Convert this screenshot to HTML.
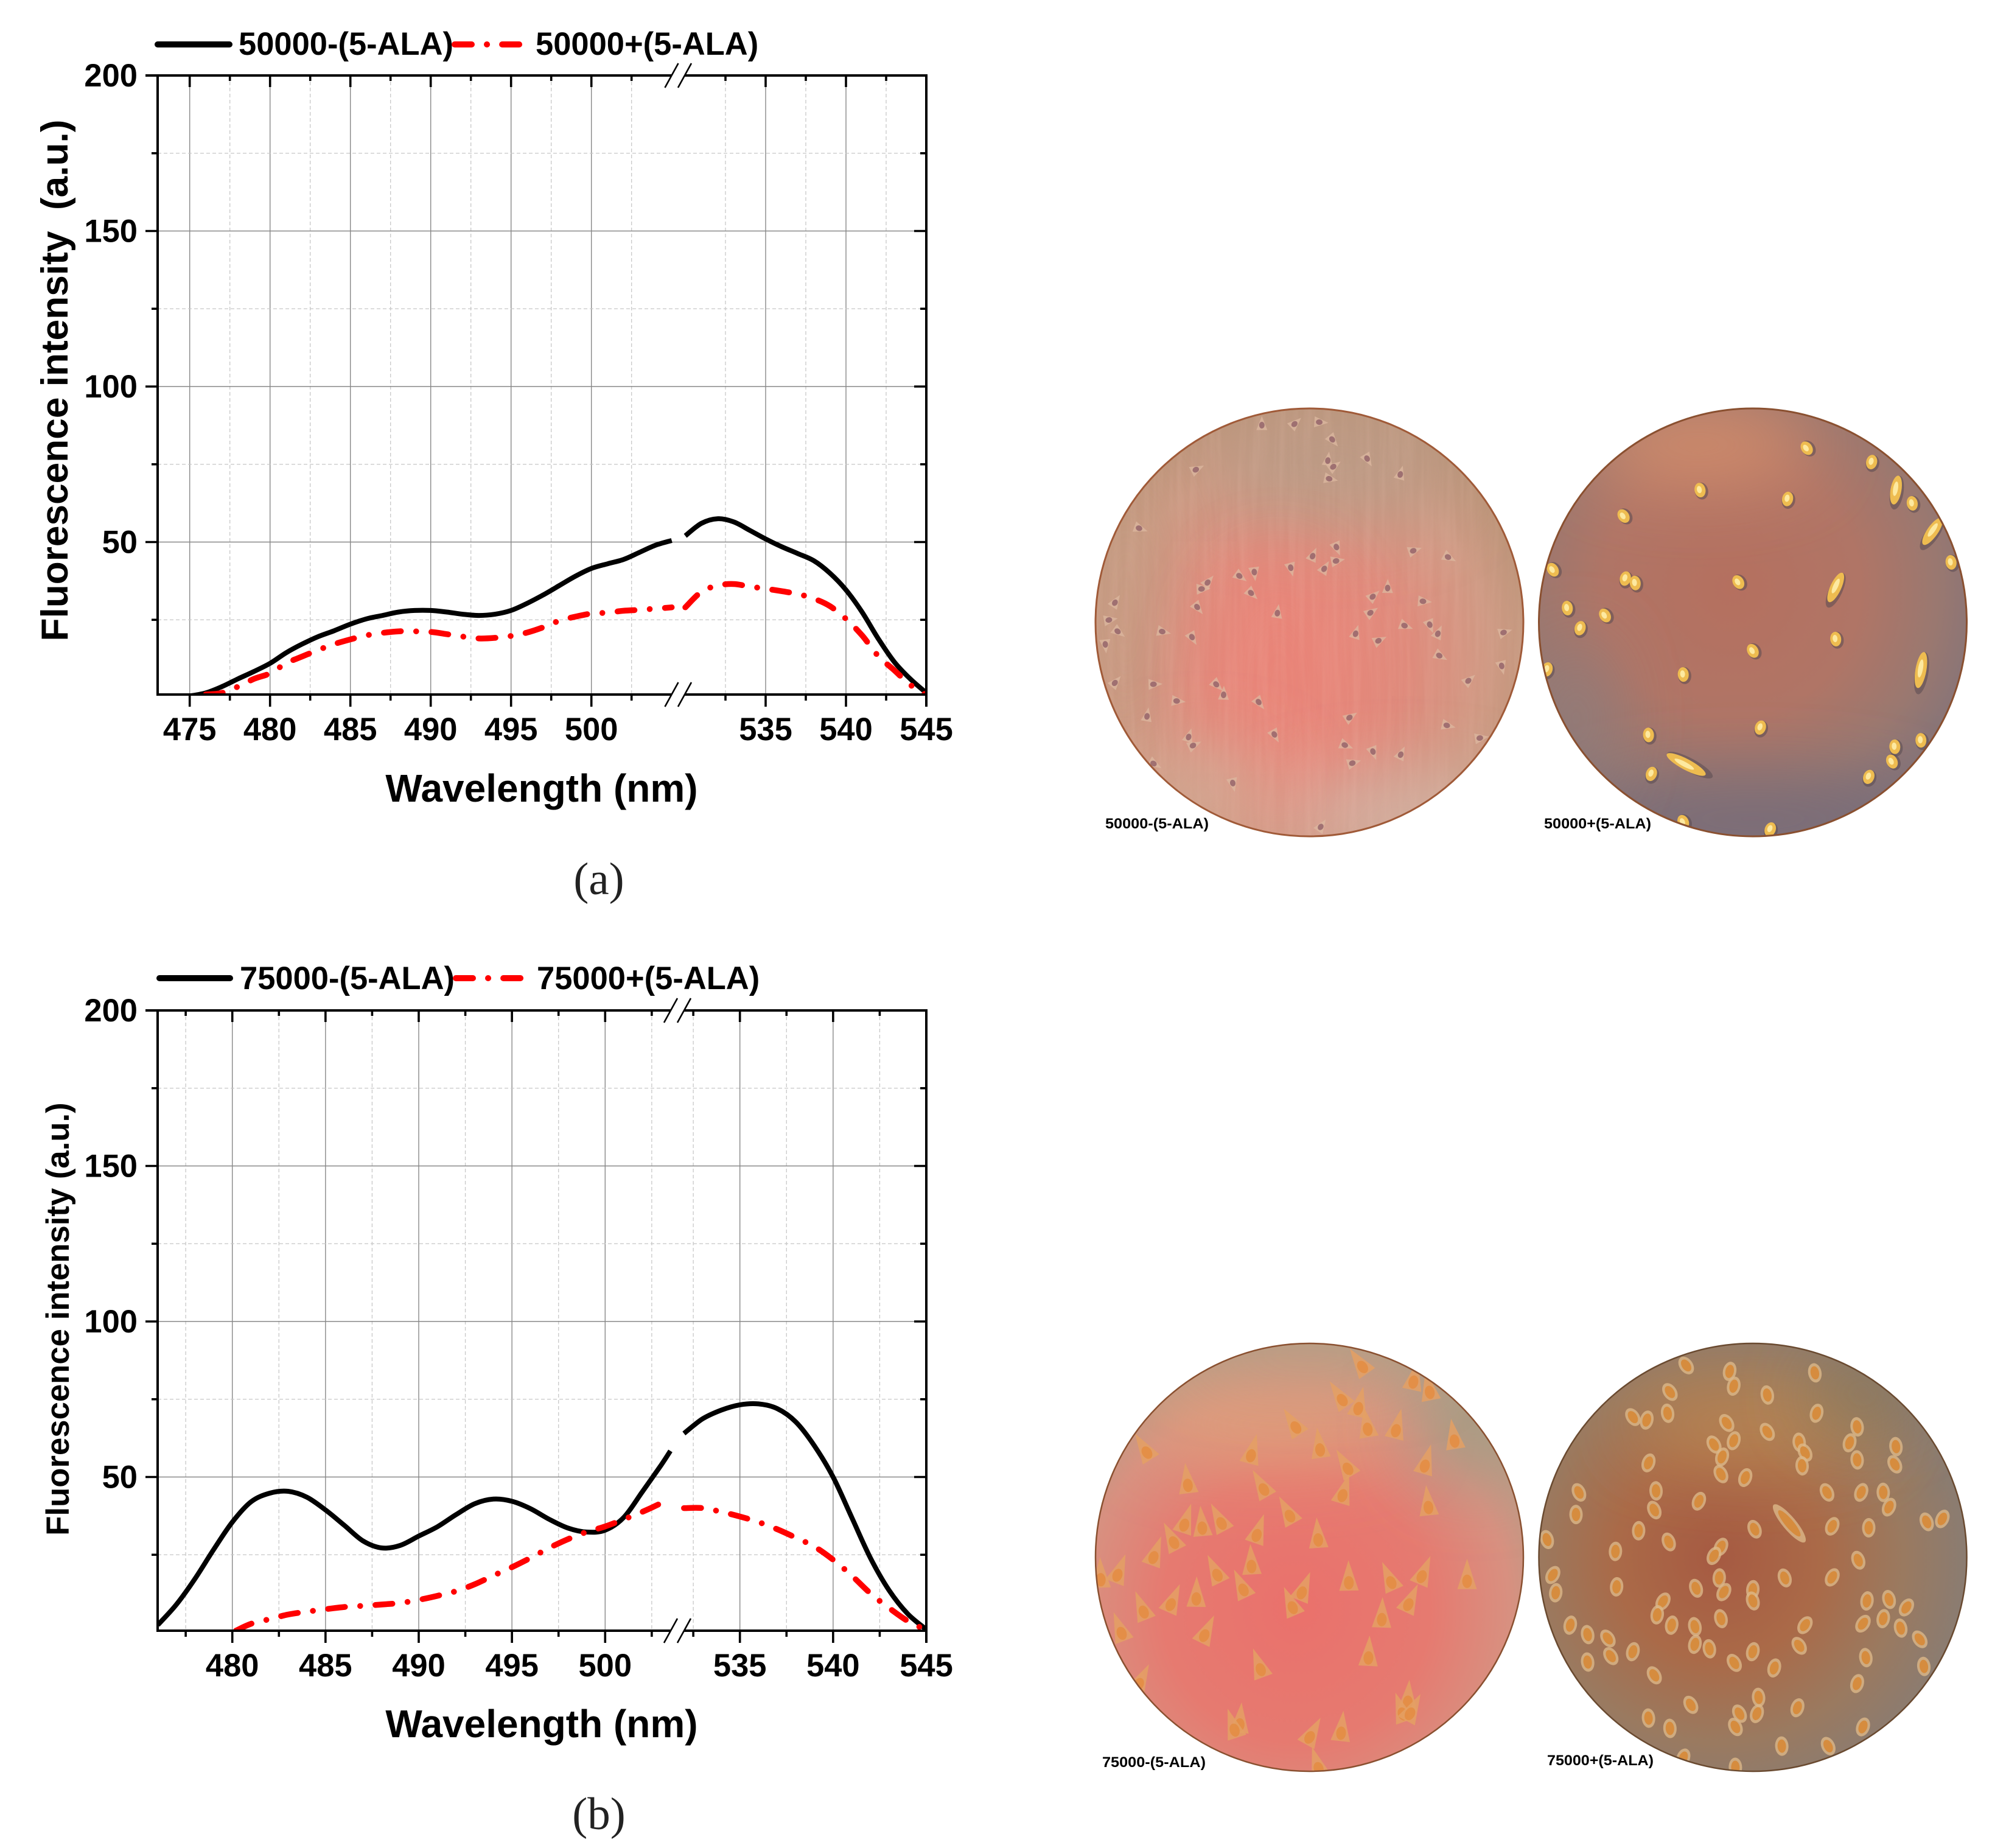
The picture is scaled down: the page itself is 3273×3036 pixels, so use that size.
<!DOCTYPE html>
<html lang="en">
<head>
<meta charset="utf-8">
<title>Fluorescence spectra and micrographs</title>
<style>
html,body{margin:0;padding:0;background:#fff;}
svg{display:block;font-family:"Liberation Sans",Arial,sans-serif;}
.tk{font-weight:700;font-size:52.5px;fill:#000;}
.lg{font-weight:700;font-size:52.5px;fill:#000;}
.ax{font-weight:700;font-size:64px;fill:#000;}
.cap{font-family:"Liberation Serif",serif;font-size:75px;fill:#222;}
.mic{font-weight:700;font-size:24px;fill:#000;}
</style>
</head>
<body>
<svg id="fig" xmlns="http://www.w3.org/2000/svg" width="3273" height="3036" viewBox="0 0 3273 3036">
<defs>
  <filter id="soft" filterUnits="userSpaceOnUse" x="1700" y="500" width="1573" height="2536"><feGaussianBlur stdDeviation="60"/></filter>
  <filter id="streak" filterUnits="userSpaceOnUse" x="1799" y="670" width="705" height="706">
    <feTurbulence type="fractalNoise" baseFrequency="0.09 0.005" numOctaves="3" seed="4"/>
    <feColorMatrix type="matrix" values="0 0 0 0 0.95  0 0 0 0 0.62  0 0 0 0 0.52  0 0 0 1.6 -0.55"/>
  </filter>
  <radialGradient id="gA1" cx="47%" cy="58%" r="58%"><stop offset="0" stop-color="#e6867a"/><stop offset=".45" stop-color="#df8b7c"/><stop offset=".78" stop-color="#cf9a84"/><stop offset="1" stop-color="#bb9478"/></radialGradient>
  <radialGradient id="gA2" cx="45%" cy="42%" r="60%"><stop offset="0" stop-color="#b5705f"/><stop offset=".5" stop-color="#b07566"/><stop offset=".8" stop-color="#9a7870"/><stop offset="1" stop-color="#867478"/></radialGradient>
  <radialGradient id="gB1" cx="47%" cy="62%" r="62%"><stop offset="0" stop-color="#ea716c"/><stop offset=".5" stop-color="#e67a70"/><stop offset=".8" stop-color="#d89080"/><stop offset="1" stop-color="#b89c86"/></radialGradient>
  <radialGradient id="gB2" cx="42%" cy="50%" r="60%"><stop offset="0" stop-color="#a65a42"/><stop offset=".4" stop-color="#aa6a48"/><stop offset=".72" stop-color="#9a7a60"/><stop offset="1" stop-color="#887c74"/></radialGradient>
  <clipPath id="cA1"><circle cx="2151.5" cy="1022.5" r="352.5"/></clipPath>
  <clipPath id="cA2"><circle cx="2880" cy="1022.5" r="352.5"/></clipPath>
  <clipPath id="cB1"><circle cx="2151.5" cy="2558.5" r="352.5"/></clipPath>
  <clipPath id="cB2"><circle cx="2880" cy="2558.5" r="352.5"/></clipPath>
  <clipPath id="plotA"><rect x="259" y="124" width="1263" height="1017"/></clipPath>
  <clipPath id="plotB"><rect x="259" y="1660" width="1263" height="1019"/></clipPath>
</defs>

<g id="chartA"></g>
<g id="chartB"></g>

<!-- chart A static text -->
<g>
  <line x1="259" y1="73" x2="377" y2="73" stroke="#000" stroke-width="10" stroke-linecap="round"/>
  <text class="lg" x="392" y="90">50000-(5-ALA)</text>
  <line x1="747" y1="73" x2="857" y2="73" stroke="#f00" stroke-width="10" stroke-linecap="round" stroke-dasharray="28 25 0.1 25"/>
  <text class="lg" x="880" y="90">50000+(5-ALA)</text>
</g>
<text class="ax" x="890" y="1317" text-anchor="middle">Wavelength (nm)</text>
<text class="ax" transform="translate(111,625) rotate(-90)" text-anchor="middle" style="font-size:62.2px;white-space:pre" xml:space="preserve">Fluorescence intensity  (a.u.)</text>
<text class="cap" x="984" y="1469" text-anchor="middle">(a)</text>

<!-- chart B static text -->
<g>
  <line x1="262" y1="1607" x2="378" y2="1607" stroke="#000" stroke-width="10" stroke-linecap="round"/>
  <text class="lg" x="394" y="1625">75000-(5-ALA)</text>
  <line x1="749" y1="1607" x2="859" y2="1607" stroke="#f00" stroke-width="10" stroke-linecap="round" stroke-dasharray="28 25 0.1 25"/>
  <text class="lg" x="882" y="1625">75000+(5-ALA)</text>
</g>
<text class="ax" x="890" y="2854" text-anchor="middle">Wavelength (nm)</text>
<text class="ax" transform="translate(113,2167) rotate(-90)" text-anchor="middle" style="font-size:52.7px">Fluorescence intensity (a.u.)</text>
<text class="cap" x="984" y="3005" text-anchor="middle">(b)</text>

<!-- micrographs -->
<g clip-path="url(#cA1)">
  <circle cx="2151.5" cy="1022.5" r="352.5" fill="url(#gA1)"/>
  <ellipse cx="2190" cy="760" rx="210" ry="100" fill="#bb9a84" filter="url(#soft)"/>
  <ellipse cx="1850" cy="1000" rx="60" ry="240" fill="#bf9c82" filter="url(#soft)" opacity=".8"/>
  <ellipse cx="2100" cy="1130" rx="110" ry="210" fill="#ea8478" filter="url(#soft)" opacity=".8"/>
  <ellipse cx="2300" cy="1340" rx="190" ry="50" fill="#d4b8ac" filter="url(#soft)"/>
  <ellipse cx="1980" cy="1300" rx="110" ry="60" fill="#d2ae98" filter="url(#soft)"/>
  <rect x="1799" y="670" width="705" height="706" filter="url(#streak)" opacity=".14"/>
  <g id="cellsA1"></g>
</g>
<circle cx="2151.5" cy="1022.5" r="351.5" fill="none" stroke="#a05a38" stroke-width="3"/>
<g clip-path="url(#cA2)">
  <circle cx="2880" cy="1022.5" r="352.5" fill="url(#gA2)"/>
  <ellipse cx="2790" cy="730" rx="190" ry="60" fill="#d48e6c" filter="url(#soft)"/>
  <ellipse cx="2880" cy="1345" rx="300" ry="60" fill="#766a78" filter="url(#soft)"/>
  <ellipse cx="2590" cy="1180" rx="50" ry="130" fill="#8e7c7c" filter="url(#soft)"/>
  <g id="cellsA2"></g>
</g>
<circle cx="2880" cy="1022.5" r="351.5" fill="none" stroke="#8a5030" stroke-width="3"/>
<g clip-path="url(#cB1)">
  <circle cx="2151.5" cy="2558.5" r="352.5" fill="url(#gB1)"/>
  <ellipse cx="2090" cy="2340" rx="210" ry="50" fill="#e0a47a" filter="url(#soft)"/>
  <ellipse cx="2420" cy="2340" rx="90" ry="90" fill="#a69c84" filter="url(#soft)"/>
  <ellipse cx="2150" cy="2225" rx="200" ry="20" fill="#b4a084" filter="url(#soft)"/>
  <g id="cellsB1"></g>
</g>
<circle cx="2151.5" cy="2558.5" r="351.5" fill="none" stroke="#8a5030" stroke-width="2.5"/>
<g clip-path="url(#cB2)">
  <circle cx="2880" cy="2558.5" r="352.5" fill="url(#gB2)"/>
  <ellipse cx="2880" cy="2340" rx="210" ry="50" fill="#bc8a52" filter="url(#soft)"/>
  <ellipse cx="3060" cy="2290" rx="90" ry="45" fill="#84765a" filter="url(#soft)"/>
  <g id="cellsB2"></g>
</g>
<circle cx="2880" cy="2558.5" r="351.5" fill="none" stroke="#6a4a30" stroke-width="2.5"/>

<text class="mic" x="1816" y="1361" textLength="170" lengthAdjust="spacingAndGlyphs">50000-(5-ALA)</text>
<text class="mic" x="2537" y="1361" textLength="176" lengthAdjust="spacingAndGlyphs">50000+(5-ALA)</text>
<text class="mic" x="1811" y="2903" textLength="170" lengthAdjust="spacingAndGlyphs">75000-(5-ALA)</text>
<text class="mic" x="2542" y="2900" textLength="175" lengthAdjust="spacingAndGlyphs">75000+(5-ALA)</text>
</svg>

<script>
// ---- chart data (top level) ----
const yMajorTicks = [50, 100, 150, 200];
const yMinorTicks = [25, 75, 125, 175];

const aXMajorLeft = [475, 480, 485, 490, 495, 500];
const aXMinorLeft = [477.5, 482.5, 487.5, 492.5, 497.5, 502.5];
const aXMajorRight = [535, 540, 545];
const aXMinorRight = [532.5, 537.5, 542.5];

const bXMajorLeft = [480, 485, 490, 495, 500];
const bXMinorLeft = [477.5, 482.5, 487.5, 492.5, 497.5, 502.5];
const bXMajorRight = [535, 540, 545];
const bXMinorRight = [532.5, 537.5, 542.5];

const aBlackWlLeft = [475,476,477,478,479,480,481,482,483,484,485,486,487,488,489,490,491,492,493,494,495,496,497,498,499,500,501,502,503,504,505];
const aBlackLeft = [0.5,1.5,3.5,6,8.4,11,14.4,17.2,19.6,21.5,23.6,25.3,26.4,27.5,28,28,27.5,26.8,26.4,26.8,28,30.3,33,36,39,41.5,43,44.4,46.7,49,50.5];
const aBlackWlRight = [530,531,532,533,534,535,536,537,538,539,540,541,542,543,544,545];
const aBlackRight = [52,56,57.5,56.5,53.8,51,48.5,46.3,44,40,34.6,27.5,19,11.5,6,1.5];

const aRedWlLeft = [476,477,478,479,480,481,482,483,484,485,486,487,488,489,490,491,492,493,494,495,496,497,498,499,500,501,502,503,504,505];
const aRedLeft = [1,1.5,3.5,6,7.8,11,13.2,15.3,17.2,18.7,20,20.8,21.3,21.3,21.1,20.4,19.6,19,19.2,19.8,20.9,22.6,24.7,26,27,27.3,27.9,28.2,28.6,29];
const aRedWlRight = [530,531,532,533,534,535,536,537,538,539,540,541,542,543,544,545];
const aRedRight = [29,34,36,36.5,35.7,35,34.2,33.3,31.8,29.4,25.3,20,13.4,8.8,4.1,0.8];

const bBlackWlLeft = [476,477,478,479,480,481,482,483,484,485,486,487,488,489,490,491,492,493,494,495,496,497,498,499,500,501,502,503,503.5];
const bBlackLeft = [2.4,9,17.3,26.7,35.5,42,44.8,45.4,43.5,39.4,34.5,29.5,27.2,28,31,34,37.9,41.4,42.9,42.2,39.8,36.4,33.6,32.3,32.9,37,45.3,53.8,58.4];
const bBlackWlRight = [532,533,534,535,536,537,538,539,540,541,542,543,544,545];
const bBlackRight = [64,68.7,71.5,73.2,73.5,72,67.7,60,50,37,24,13.6,6,1];

const bRedWlLeft = [480.2,481,482,483,484,485,486,487,488,489,490,491,492,493,494,495,496,497,498,499,500,501,502,503,503.5];
const bRedLeft = [0.6,2.8,4.3,5.8,6.7,7.5,8.2,8.6,9,9.5,10.5,11.8,13.3,15.5,18.3,21,24,27.2,30,32.3,34.1,36.4,38.8,41.6,43.5];
const bRedWlRight = [532,533,534,535,536,537,538,539,540,541,542,543,544,545];
const bRedRight = [40,40,38.8,37.3,35.5,33.2,30.5,27.6,23.4,18.3,12.6,7.9,3.7,0.8];

// ---- micrograph cell positions (as seen on the micrograph); optional [x, y, elongation, tilt] ----
const cellsA1 = [[308,98],[365,95],[408,90],[430,150],[422,218],[432,240],[425,282],[490,215],[547,265],[195,250],[97,450],[437,515],[396,542],[570,525],[630,548],[358,585],[416,585],[437,560],[270,612],[295,600],[215,632],[205,655],[290,670],[525,650],[500,680],[587,697],[197,718],[335,735],[496,735],[137,800],[188,820],[470,805],[510,830],[555,780],[598,778],[612,805],[726,802],[615,882],[722,918],[55,700],[45,760],[60,800],[38,845],[55,972],[122,978],[230,980],[242,1012],[665,965],[162,1035],[303,1040],[110,1085],[460,1090],[628,1118],[330,1150],[182,1155],[190,1185],[452,1185],[500,1208],[548,1215],[465,1245],[122,1248],[258,1315],[410,1460],[685,1160]];
const cellsA2 = [[1248,178],[1215,350],[1064,320],[932,408],[1360,225],[1430,365],[1402,320,2,10],[1465,460,2.2,35],[1497,565],[810,590],[935,620],[952,635],[1130,632],[1298,650,2.2,25],[835,720],[900,745],[857,788],[1298,825],[1155,865],[800,928],[1035,945],[1445,930,2.5,10],[1168,1125],[975,1150],[1040,1250,3,-62],[980,1282],[1400,1190],[1395,1240],[1355,1292],[1445,1168],[1035,1445],[1185,1470]];
const cellsB1 = [[480,110],[570,160],[597,195],[445,222],[475,250],[490,320],[365,315],[540,325],[640,360],[108,400],[290,410],[408,390],[455,455],[590,445],[180,510],[310,525],[448,545],[595,585],[355,615],[175,645],[205,655],[237,640],[300,680],[405,695],[155,705],[122,755],[290,785],[230,815],[60,815],[30,830],[275,865],[378,875],[458,840],[530,840],[585,820],[662,835],[360,925],[152,915],[195,895],[103,940],[562,915],[515,965],[65,1012],[210,1020],[492,1095],[305,1135],[97,1185],[560,1245],[550,1285],[565,1285],[270,1322],[260,1340],[392,1365],[445,1350],[405,1470]];
const cellsB2 = [[1040,110],[1115,130],[1262,135],[1012,200],[1122,180],[1180,210],[948,285],[972,295],[1008,272],[1110,305],[1265,272],[1335,318],[1180,335],[1322,372],[1402,385],[1088,378],[1122,365],[1235,370],[1245,405],[1102,420],[1335,430],[1400,445],[975,440],[1240,450],[1100,478],[1142,490],[988,535],[1283,540],[1342,540],[1380,540],[855,540],[1062,570],[850,615],[985,600],[1390,590],[1218,645,2.5,-40],[1158,665],[1292,655],[1355,660],[1455,640],[1482,630],[958,670],[1010,708],[1100,725],[918,740],[1337,770],[1088,755],[1097,830],[1210,830],[1292,828],[920,860],[1057,865],[1105,878],[1155,870],[1155,908],[810,820],[815,880],[800,700],[1000,910],[1352,908],[1390,903],[1420,930],[990,955],[1100,968],[1245,990],[1015,990],[1055,995],[1345,985],[1380,968],[1410,1000],[1443,1038],[840,990],[870,1022],[905,1035],[1055,1055],[1080,1070],[1235,1060],[1155,1080],[1350,1100],[910,1095],[948,1080],[870,1115],[1123,1118],[1192,1135],[1450,1130],[985,1160],[1335,1188],[1165,1235],[1048,1260],[1232,1270],[975,1305],[1132,1290],[1162,1290],[1012,1340],[1125,1335],[1345,1335],[1205,1400],[1285,1400],[1035,1440],[1125,1472]];

const NS = 'http://www.w3.org/2000/svg';
function mk(parent, tag, attrs) {
  const n = document.createElementNS(NS, tag);
  for (const k in attrs) n.setAttribute(k, attrs[k]);
  parent.appendChild(n);
  return n;
}

function smoothPath(pts) {
  let d = 'M' + pts[0][0].toFixed(1) + ' ' + pts[0][1].toFixed(1);
  for (let i = 0; i < pts.length - 1; i++) {
    const p0 = pts[Math.max(0, i - 1)], p1 = pts[i], p2 = pts[i + 1], p3 = pts[Math.min(pts.length - 1, i + 2)];
    const c1x = p1[0] + (p2[0] - p0[0]) / 6, c1y = p1[1] + (p2[1] - p0[1]) / 6;
    const c2x = p2[0] - (p3[0] - p1[0]) / 6, c2y = p2[1] - (p3[1] - p1[1]) / 6;
    d += 'C' + c1x.toFixed(1) + ' ' + c1y.toFixed(1) + ' ' + c2x.toFixed(1) + ' ' + c2y.toFixed(1) + ' ' + p2[0].toFixed(1) + ' ' + p2[1].toFixed(1);
  }
  return d;
}

function drawChart(cfg) {
  const g = document.getElementById(cfg.id);
  const L = 259, R = 1522, T = cfg.top, B = cfg.bottom;
  const xL = w => cfg.x0L + (w - cfg.w0L) * cfg.pxPerNm;
  const xR = w => R + (w - 545) * cfg.pxPerNm;
  const y = v => T + (200 - v) * 5.11;

  // grid
  cfg.minorL.map(xL).concat(cfg.minorR.map(xR)).forEach(px => {
    const el = mk(g, 'line', {x1: px, x2: px, y1: T, y2: B, stroke: '#c8c8c8', 'stroke-width': 1.3, 'stroke-dasharray': '6 4'});
    
    
  });
  cfg.majorL.map(xL).concat(cfg.majorR.map(xR)).forEach(px => {
    const el = mk(g, 'line', {x1: px, x2: px, y1: T, y2: B, stroke: '#888', 'stroke-width': 1.4});
    
    
  });
  yMinorTicks.forEach(v => {
    const el = mk(g, 'line', {x1: L, x2: R, y1: y(v), y2: y(v), stroke: '#c8c8c8', 'stroke-width': 1.3, 'stroke-dasharray': '6 4'});
    
    
  });
  yMajorTicks.filter(v => v < 200).forEach(v => {
    const el = mk(g, 'line', {x1: L, x2: R, y1: y(v), y2: y(v), stroke: '#888', 'stroke-width': 1.4});
    
    
  });

  // series
  const series = [
    {wl: cfg.blackWlL, v: cfg.blackL, sc: xL, c: '#000', name: 'series-minus-ala-left'},
    {wl: cfg.blackWlR, v: cfg.blackR, sc: xR, c: '#000', name: 'series-minus-ala-right'},
    {wl: cfg.redWlL, v: cfg.redL, sc: xL, c: '#f00', name: 'series-plus-ala-left', dash: true},
    {wl: cfg.redWlR, v: cfg.redR, sc: xR, c: '#f00', name: 'series-plus-ala-right', dash: true}
  ];
  const clip = mk(g, 'g', {'clip-path': 'url(#' + cfg.clip + ')'});
  
  
  series.forEach(s => {
    const pts = s.wl.map((w, i) => [s.sc(w), y(s.v[i])]);
    const el = mk(clip, 'path', {d: smoothPath(pts), fill: 'none', stroke: s.c,
      'stroke-width': s.dash ? 9.5 : 8, 'stroke-linecap': s.dash ? 'round' : 'butt', 'stroke-linejoin': 'round',
      'stroke-dasharray': s.dash ? '28 25 0.1 25' : 'none'});
    
    
  });

  // axes frame
  [[239, T, R + 2, T], [L, B, R + 2, B], [L, T - 2, L, B + 2], [R, T - 2, R, B + 20]].forEach((a, i) => {
    const el = mk(g, 'line', {x1: a[0], y1: a[1], x2: a[2], y2: a[3], stroke: '#000', 'stroke-width': 4});
    
    
  });

  // x ticks
  const allMajor = cfg.majorL.map(w => [w, xL(w)]).concat(cfg.majorR.map(w => [w, xR(w)]));
  const allMinor = cfg.minorL.map(xL).concat(cfg.minorR.map(xR));
  allMajor.forEach(m => {
    const t1 = mk(g, 'line', {x1: m[1], x2: m[1], y1: T, y2: T + 19, stroke: '#000', 'stroke-width': 3.6});
    
    
    const t2 = mk(g, 'line', {x1: m[1], x2: m[1], y1: B, y2: B + 20, stroke: '#000', 'stroke-width': 3.6});
    
    
    const lab = mk(g, 'text', {x: m[1], y: B + 75, 'text-anchor': 'middle', class: 'tk'});
    
    
    lab.textContent = m[0];
  });
  allMinor.forEach(px => {
    const t1 = mk(g, 'line', {x1: px, x2: px, y1: T, y2: T + 9, stroke: '#000', 'stroke-width': 3.6});
    
    
    const t2 = mk(g, 'line', {x1: px, x2: px, y1: B, y2: B + 10, stroke: '#000', 'stroke-width': 3.6});
    
    
  });

  // y ticks
  yMajorTicks.forEach(v => {
    const t1 = mk(g, 'line', {x1: 239, x2: L, y1: y(v), y2: y(v), stroke: '#000', 'stroke-width': 3.6});
    
    
    if (v < 200) {
      const t2 = mk(g, 'line', {x1: R - 20, x2: R, y1: y(v), y2: y(v), stroke: '#000', 'stroke-width': 3.6});
      
      
    }
    const lab = mk(g, 'text', {x: 226, y: y(v) + 18, 'text-anchor': 'end', class: 'tk'});
    
    
    lab.textContent = v;
  });
  yMinorTicks.forEach(v => {
    const t1 = mk(g, 'line', {x1: 249, x2: L, y1: y(v), y2: y(v), stroke: '#000', 'stroke-width': 3.6});
    
    
    const t2 = mk(g, 'line', {x1: R - 10, x2: R, y1: y(v), y2: y(v), stroke: '#000', 'stroke-width': 3.6});
    
    
  });

  // axis break marks
  [T, B].forEach(ay => {
    const gap = mk(g, 'rect', {x: cfg.brk[0], y: ay - 5, width: cfg.brk[1] - cfg.brk[0], height: 10, fill: '#fff'});
    
    
    cfg.brk.forEach(cx => {
      const s = mk(g, 'line', {x1: cx - 11, y1: ay + 20, x2: cx + 11, y2: ay - 20, stroke: '#000', 'stroke-width': 2.6});
      
      
    });
  });
}

drawChart({id: 'chartA', clip: 'plotA', top: 124, bottom: 1141, w0L: 475, x0L: 311.7, pxPerNm: 26.4, brk: [1103.5, 1125],
  majorL: aXMajorLeft, minorL: aXMinorLeft, majorR: aXMajorRight, minorR: aXMinorRight,
  blackWlL: aBlackWlLeft, blackL: aBlackLeft, blackWlR: aBlackWlRight, blackR: aBlackRight,
  redWlL: aRedWlLeft, redL: aRedLeft, redWlR: aRedWlRight, redR: aRedRight});
drawChart({id: 'chartB', clip: 'plotB', top: 1660, bottom: 2679, w0L: 480, x0L: 381.7, pxPerNm: 30.63, brk: [1102, 1124],
  majorL: bXMajorLeft, minorL: bXMinorLeft, majorR: bXMajorRight, minorR: bXMinorRight,
  blackWlL: bBlackWlLeft, blackL: bBlackLeft, blackWlR: bBlackWlRight, blackR: bBlackRight,
  redWlL: bRedWlLeft, redL: bRedLeft, redWlR: bRedWlRight, redR: bRedRight});

// ---- micrograph cells ----
function drawCells(id, list, baseY, style) {
  const g = document.getElementById(id);
  list.forEach((c, i) => {
    const cx = 1780 + c[0] / 1.05, cy = baseY + c[1] / 2.063;
    const tilt = style === 'a1' ? (i * 47) % 180 : ((i * 47) % 70) - 35;
    const rot = c[3] !== undefined ? c[3] : tilt;
    const stretch = c[2] || 1;
    const cell = mk(g, 'g', {transform: 'translate(' + cx.toFixed(1) + ' ' + cy.toFixed(1) + ') rotate(' + rot + ') scale(1 ' + stretch + ')'});
    
    
    if (style === 'a1') {
      mk(cell, 'polygon', {points: '0,-14 9,9 -9,9', fill: '#dcb8a0', opacity: .75});
      mk(cell, 'ellipse', {cx: 0, cy: 1, rx: 4.5, ry: 5.5, fill: '#7a4456', opacity: .6});
    } else if (style === 'a2') {
      mk(cell, 'ellipse', {cx: 2, cy: 2, rx: 11, ry: 14, fill: '#5a4a50', opacity: .55});
      mk(cell, 'ellipse', {cx: 0, cy: 0, rx: 9, ry: 12, fill: '#eebc50'});
      mk(cell, 'ellipse', {cx: -1, cy: -1, rx: 4, ry: 6, fill: '#fde9a0'});
    } else if (style === 'b1') {
      mk(cell, 'polygon', {points: '0,-34 16,16 -16,16', fill: '#e4a064', opacity: .85});
      mk(cell, 'ellipse', {cx: 0, cy: 3, rx: 8, ry: 11, fill: '#e48c42', opacity: .85});
    } else {
      mk(cell, 'ellipse', {cx: 0, cy: 0, rx: 11, ry: 16, fill: '#dcb888', opacity: .8});
      mk(cell, 'ellipse', {cx: 0, cy: 0, rx: 7, ry: 11, fill: '#d68c3e'});
    }
  });
}
drawCells('cellsA1', cellsA1, 650, 'a1');
drawCells('cellsA2', cellsA2, 650, 'a2');
drawCells('cellsB1', cellsB1, 2190, 'b1');
drawCells('cellsB2', cellsB2, 2190, 'b2');
</script>
</body>
</html>
